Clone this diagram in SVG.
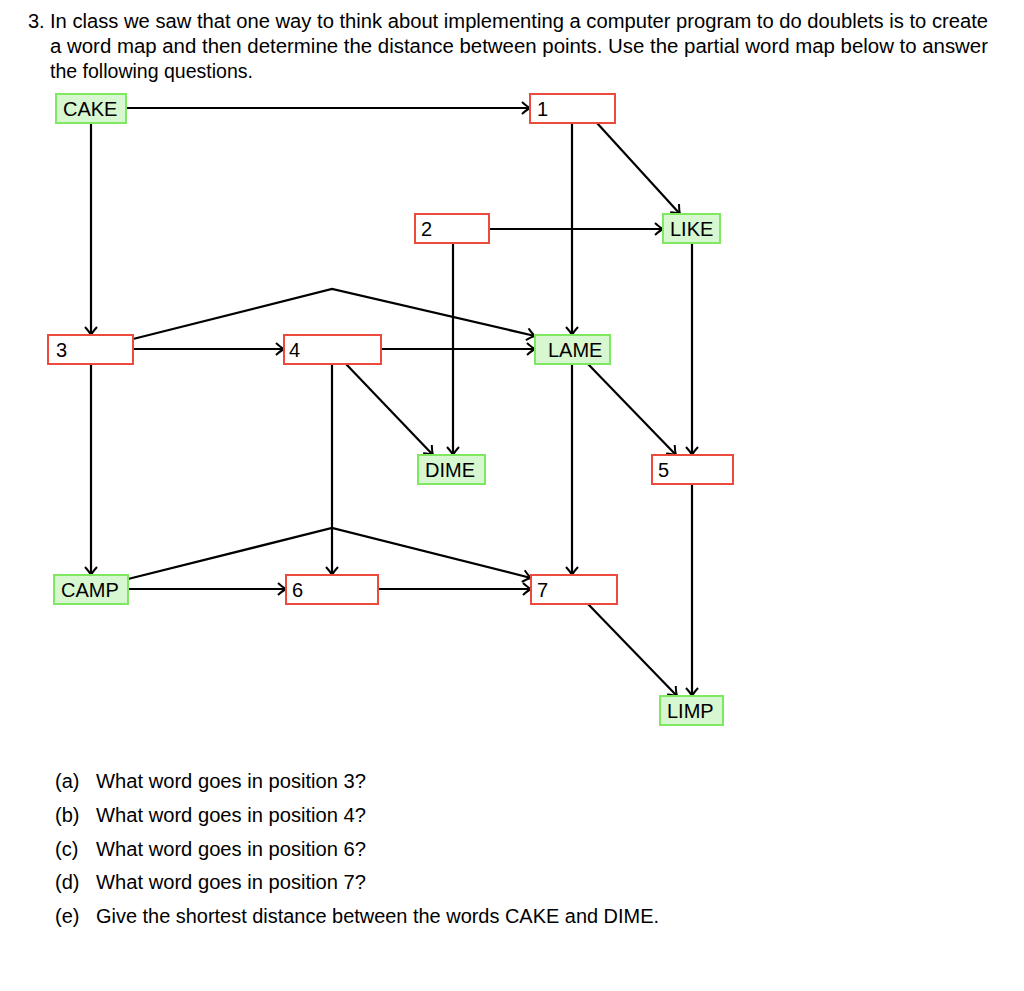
<svg xmlns="http://www.w3.org/2000/svg" width="1024" height="991" viewBox="0 0 1024 991">
<style>
text{font-family:"Liberation Sans","DejaVu Sans",sans-serif;fill:#000}
.t{font-size:20px}
.n{font-size:20px}
.g{fill:#d7f7d0;stroke:#7ee860;stroke-width:2}
.r{fill:#fff;stroke:#ec4a3c;stroke-width:2}
.c line,.c polyline{stroke:#000;stroke-width:2.2;fill:none;marker-end:url(#a)}
</style>
<defs>
<marker id="a" markerUnits="userSpaceOnUse" markerWidth="18" markerHeight="18" viewBox="-11 -9 13 18" refX="0" refY="0" orient="auto">
<path d="M-8,-6 Q-3,-1.5 0,0 Q-3,1.5 -8,6" fill="none" stroke="#000" stroke-width="2"/>
</marker>
</defs>
<rect width="1024" height="991" fill="#fff"/>
<g id="header">
<text class="t" x="28" y="28">3.</text>
<text class="t" x="50" y="28" textLength="938" lengthAdjust="spacingAndGlyphs">In class we saw that one way to think about implementing a computer program to do doublets is to create</text>
<text class="t" x="50" y="53" textLength="938" lengthAdjust="spacingAndGlyphs">a word map and then determine the distance between points. Use the partial word map below to answer</text>
<text class="t" x="50" y="78" textLength="203" lengthAdjust="spacingAndGlyphs">the following questions.</text>
</g>
<g class="c" id="connectors">
<line x1="126" y1="108" x2="530" y2="108"/>
<line x1="572" y1="123" x2="572" y2="335"/>
<line x1="597" y1="123" x2="680" y2="214"/>
<line x1="489" y1="229" x2="663" y2="229"/>
<line x1="453" y1="243" x2="453" y2="455"/>
<line x1="692" y1="243" x2="692" y2="455"/>
<line x1="91" y1="123" x2="91" y2="335"/>
<line x1="133" y1="349" x2="284" y2="349"/>
<line x1="381" y1="349" x2="535" y2="349"/>
<polyline points="133,339 332,289 535,336"/>
<line x1="346" y1="364" x2="433" y2="455"/>
<line x1="332" y1="364" x2="332" y2="575"/>
<line x1="572" y1="364" x2="572" y2="575"/>
<line x1="588" y1="364" x2="676" y2="455"/>
<line x1="91" y1="364" x2="91" y2="575"/>
<line x1="128" y1="589" x2="286" y2="589"/>
<line x1="378" y1="589" x2="531" y2="589"/>
<polyline points="128,579 332,528 531,578"/>
<line x1="588" y1="604" x2="677" y2="696"/>
<line x1="692" y1="484" x2="692" y2="696"/>
</g>
<g id="CAKE"><rect class="g" x="56" y="94" width="70" height="29"/><text class="n" x="63" y="116">CAKE</text></g>
<g id="n1"><rect class="r" x="530" y="94" width="85" height="29"/><text class="n" x="537" y="116">1</text></g>
<g id="n2"><rect class="r" x="415" y="214" width="74" height="29"/><text class="n" x="421" y="236">2</text></g>
<g id="LIKE"><rect class="g" x="663" y="214" width="57" height="29"/><text class="n" x="670" y="236">LIKE</text></g>
<g id="n3"><rect class="r" x="48" y="335" width="85" height="29"/><text class="n" x="56" y="357">3</text></g>
<g id="n4"><rect class="r" x="284" y="335" width="97" height="29"/><text class="n" x="289" y="357">4</text></g>
<g id="LAME"><rect class="g" x="535" y="335" width="75" height="29"/><text class="n" x="548" y="357">LAME</text></g>
<g id="DIME"><rect class="g" x="418" y="455" width="67" height="29"/><text class="n" x="425" y="477">DIME</text></g>
<g id="n5"><rect class="r" x="652" y="455" width="81" height="29"/><text class="n" x="658" y="477">5</text></g>
<g id="CAMP"><rect class="g" x="54" y="575" width="74" height="29"/><text class="n" x="61" y="597">CAMP</text></g>
<g id="n6"><rect class="r" x="286" y="575" width="92" height="29"/><text class="n" x="292" y="597">6</text></g>
<g id="n7"><rect class="r" x="531" y="575" width="86" height="29"/><text class="n" x="537" y="597">7</text></g>
<g id="LIMP"><rect class="g" x="660" y="696" width="63" height="29"/><text class="n" x="667" y="718">LIMP</text></g>
<g id="questions">
<text class="t" x="55" y="788">(a)</text><text class="t" x="96" y="788" textLength="270" lengthAdjust="spacingAndGlyphs">What word goes in position 3?</text>
<text class="t" x="55" y="822">(b)</text><text class="t" x="96" y="822" textLength="270" lengthAdjust="spacingAndGlyphs">What word goes in position 4?</text>
<text class="t" x="55" y="856">(c)</text><text class="t" x="96" y="856" textLength="270" lengthAdjust="spacingAndGlyphs">What word goes in position 6?</text>
<text class="t" x="55" y="889">(d)</text><text class="t" x="96" y="889" textLength="270" lengthAdjust="spacingAndGlyphs">What word goes in position 7?</text>
<text class="t" x="55" y="923">(e)</text><text class="t" x="96" y="923" textLength="563" lengthAdjust="spacingAndGlyphs">Give the shortest distance between the words CAKE and DIME.</text>
</g>
</svg>
